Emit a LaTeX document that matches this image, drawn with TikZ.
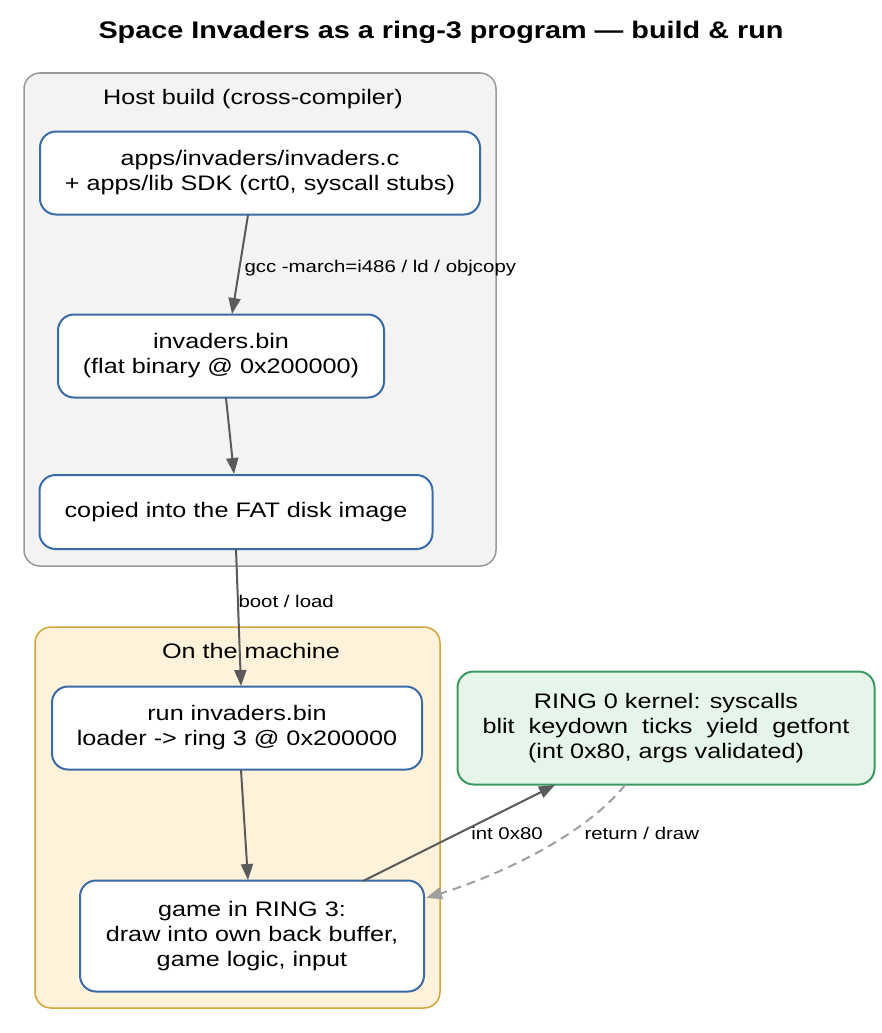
\documentclass[tikz,border=0pt]{standalone}
\usepackage{fontspec}
\setmainfont{Liberation Sans}[FakeStretch=1.2]
\usetikzlibrary{arrows.meta}
\definecolor{nb}{HTML}{3B6BA5}
\definecolor{eg}{HTML}{5A5A5A}
\begin{document}
\begin{tikzpicture}[x=1pt,y=-1pt,
 box/.style={draw=nb,line width=2pt,fill=white,rounded corners=16pt,align=center,font=\fontsize{21}{25}\selectfont},
 clus/.style={rounded corners=16pt,line width=1.5pt},
 edge/.style={draw=eg,line width=2pt,-{Triangle[length=16pt,width=12pt]}},
 lab/.style={font=\fontsize{17}{20}\selectfont,fill=none}]
\useasboundingbox (0,0) rectangle (882,1033);
\node[font=\bfseries\fontsize{24}{28}\selectfont] (t) at (441,32) {Space Invaders as a ring-3 program — build \& run};
\draw[clus,draw=gray!80,fill={rgb,255:red,243;green,243;blue,243}] (24,73) rectangle (496,566);
\node[font=\fontsize{21}{25}\selectfont] (c1) at (253,99) {Host build (cross-compiler)};
\draw[clus,draw={rgb,255:red,212;green,166;blue,58},fill={rgb,255:red,255;green,242;blue,218}] (35,627) rectangle (440,1008);
\node[font=\fontsize{21}{25}\selectfont] (c2) at (251,651) {On the machine};
\node[box,minimum width=440pt,minimum height=83pt] (A) at (260,173) {apps/invaders/invaders.c\\+ apps/lib SDK (crt0, syscall stubs)};
\node[box,minimum width=326pt,minimum height=83pt] (B) at (221,356) {invaders.bin\\(flat binary @ 0x200000)};
\node[box,minimum width=393pt,minimum height=74pt] (C) at (236,512) {copied into the FAT disk image};
\node[box,minimum width=370pt,minimum height=83pt] (D) at (237,728) {run invaders.bin\\loader -> ring 3 @ 0x200000};
\node[box,minimum width=344pt,minimum height=111pt] (E) at (252,936) {game in RING 3:\\draw into own back buffer,\\game logic, input};
\node[box,draw={rgb,255:red,60;green,154;blue,95},fill={rgb,255:red,230;green,245;blue,233},minimum width=417pt,minimum height=113pt] (K) at (666,728) {RING 0 kernel: syscalls\\blit\ \ keydown\ \ ticks\ \ yield\ \ getfont\\(int 0x80, args validated)};
\coordinate (a1) at (248,215); \coordinate (b1) at (232,314);
\draw[edge] (a1) -- (b1);
\node[lab,anchor=west] (l1) at (241,268) {gcc -march=i486 / ld / objcopy};
\coordinate (b2) at (226,398); \coordinate (c3) at (234,474);
\draw[edge] (b2) -- (c3);
\coordinate (c4) at (236,549); \coordinate (d1) at (241,686);
\draw[edge] (c4) -- (d1);
\node[lab,anchor=west] (l2) at (235,601) {boot / load};
\coordinate (d2) at (241,770); \coordinate (e1) at (248,880);
\draw[edge] (d2) -- (e1);
\coordinate (e2) at (363,881); \coordinate (k1) at (555,785);
\draw[edge] (e2) -- (k1);
\node[lab] (l3) at (507,833) {int 0x80};
\coordinate (k2) at (625,785); \coordinate (e3) at (426,898);
\draw[edge,draw=gray!75,dash pattern=on 9pt off 6pt,-{Triangle[length=16pt,width=12pt,fill=gray!75]}] (k2) .. controls (585,835) and (500,875) .. (e3);
\node[lab,anchor=west] (l4) at (581,833) {return / draw};
\end{tikzpicture}
\end{document}
